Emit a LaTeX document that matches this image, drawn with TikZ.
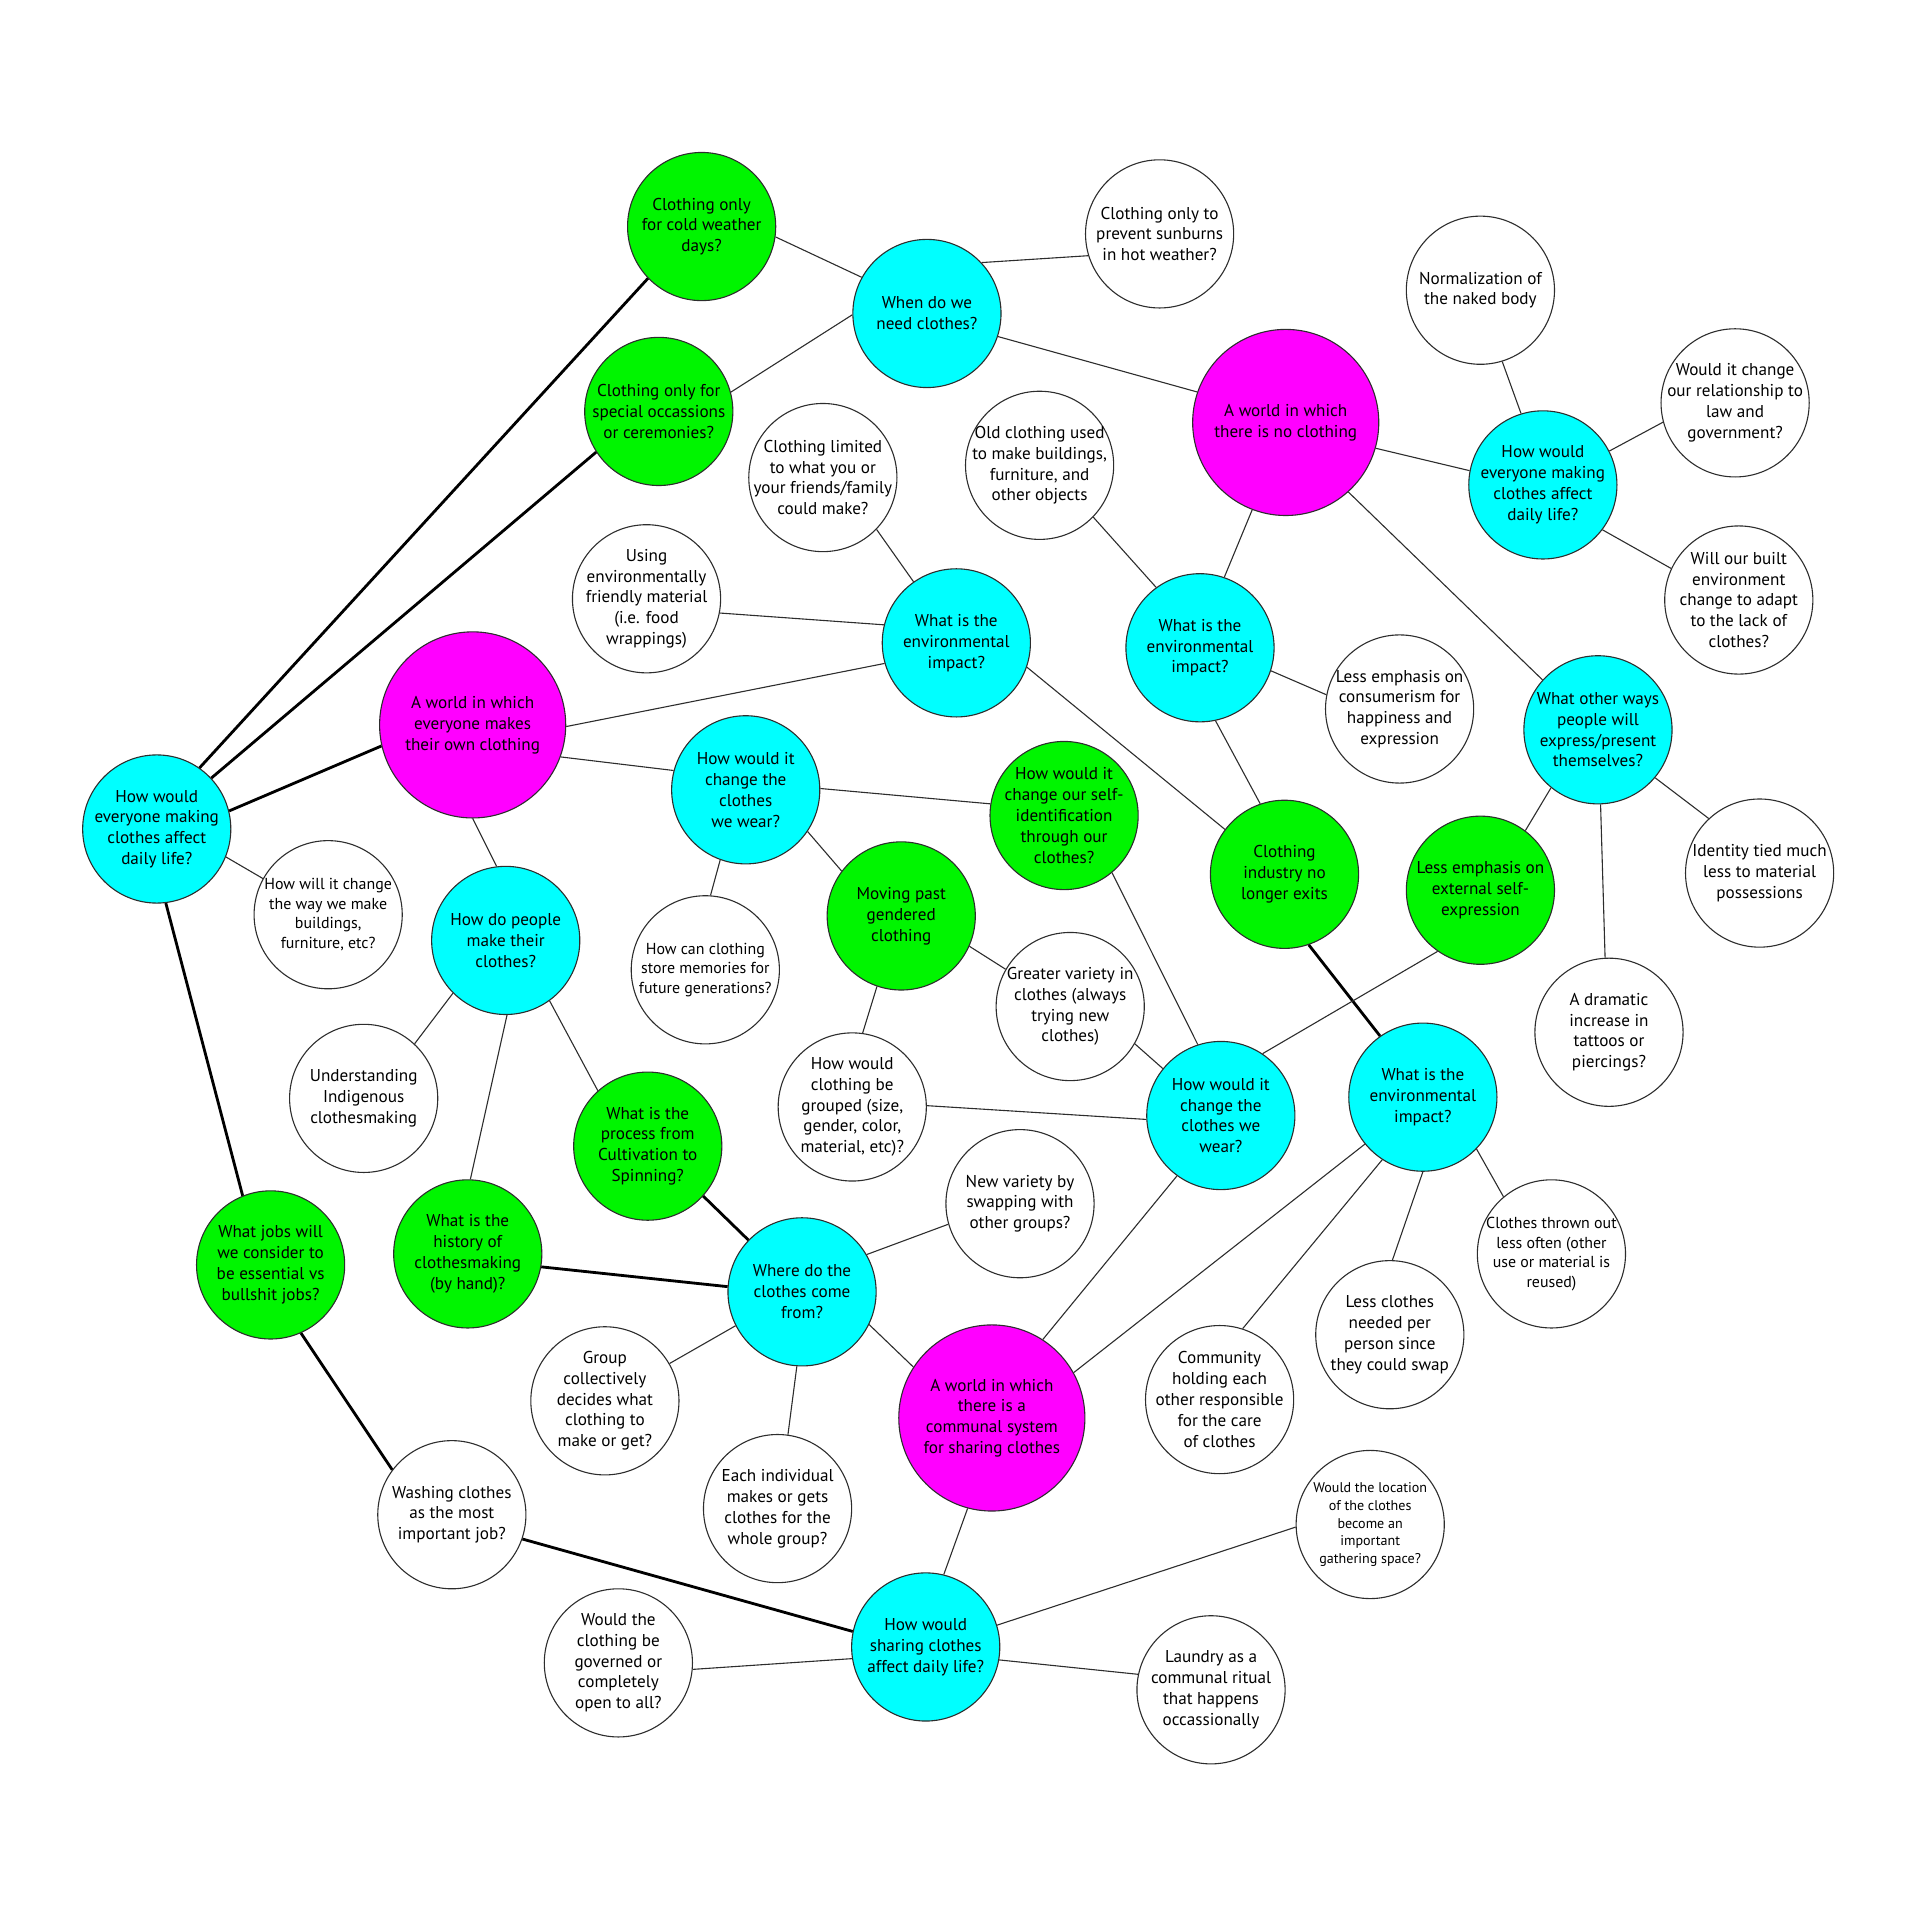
\documentclass[tikz,border=0pt]{standalone}
\usepackage{fontspec}
\setmainfont{PT Sans}
\usepackage{xcolor}
\definecolor{bubcyan}{RGB}{0,255,255}
\definecolor{bubgreen}{RGB}{0,245,0}
\definecolor{bubpink}{RGB}{255,0,255}
\definecolor{edgegray}{RGB}{45,45,45}

\begin{document}
\begin{tikzpicture}[x=1pt,y=-1pt,
  bub/.style={circle,draw=edgegray,line width=0.9pt,minimum size=121pt,inner sep=0pt},
  cy/.style={bub,fill=bubcyan},
  gr/.style={bub,fill=bubgreen},
  wh/.style={bub,fill=white},
  mg/.style={bub,minimum size=152pt,fill=bubpink},
  txt/.style={align=center,inner sep=0pt,font=\fontsize{14}{17}\selectfont},
  txts/.style={txt,font=\fontsize{13}{16}\selectfont},
  txtxs/.style={txt,font=\fontsize{11.5}{14.5}\selectfont},
  link/.style={draw=edgegray,line width=0.9pt},
  trunk/.style={draw=black,line width=2.3pt}]
\useasboundingbox (0,0) rectangle (1568,1567);

\node[gr,label={[txt]center:{Clothing only\\for cold weather\\days?}}] (coldwx) at (573,185) {};
\node[wh,label={[txt]center:{Clothing only to\\prevent sunburns\\in hot weather?}}] (sunburn) at (947,191) {};
\node[cy,label={[txt]center:{When do we\\need clothes?}}] (whenneed) at (757,256) {};
\node[wh,label={[txt]center:{Normalization of\\the naked body}}] (naked) at (1209,237) {};
\node[gr,label={[txt]center:{Clothing only for\\special occassions\\or ceremonies?}}] (special) at (538,336) {};
\node[mg,label={[txt]center:{A world in which\\there is no clothing}}] (noclo) at (1050,345) {};
\node[wh,label={[txt]center:{Would it change\\our relationship to\\law and\\government?}}] (law) at (1417,329) {};
\node[cy,label={[txt]center:{How would\\everyone making\\clothes affect\\daily life?}}] (dailyR) at (1260,396) {};
\node[wh,label={[txt]center:{Clothing limited\\to what you or\\your friends/family\\could make?}}] (limited) at (672,390) {};
\node[wh,label={[txt]center:{Old clothing used\\to make buildings,\\furniture, and\\other objects}}] (oldclo) at (849,380) {};
\node[wh,label={[txt]center:{Using\\environmentally\\friendly material\\(i.e. food\\wrappings)}}] (ecomat) at (528,489) {};
\node[cy,label={[txt]center:{What is the\\environmental\\impact?}}] (envA) at (781,525) {};
\node[cy,label={[txt]center:{What is the\\environmental\\impact?}}] (envB) at (980,529) {};
\node[wh,label={[txt]center:{Will our built\\environment\\change to adapt\\to the lack of\\clothes?}}] (builtenv) at (1420,490) {};
\node[wh,label={[txt]center:{Less emphasis on\\consumerism for\\happiness and\\expression}}] (consum) at (1143,579) {};
\node[mg,label={[txt]center:{A world in which\\everyone makes\\their own clothing}}] (ownclo) at (386,592) {};
\node[cy,label={[txt]center:{How would it\\change the\\clothes\\we wear?}}] (wearA) at (609,645) {};
\node[gr,label={[txt]center:{How would it\\change our self-\\identification\\through our\\clothes?}}] (selfid) at (869,666) {};
\node[cy,label={[txt]center:{What other ways\\people will\\express/present\\themselves?}}] (otherways) at (1305,596) {};
\node[cy,label={[txt]center:{How would\\everyone making\\clothes affect\\daily life?}}] (dailyL) at (128,677) {};
\node[wh,label={[txts]center:{How will it change\\the way we make\\buildings,\\furniture, etc?}}] (buildings) at (268,747) {};
\node[gr,label={[txt]center:{Clothing\\industry no\\longer exits}}] (industry) at (1049,714) {};
\node[gr,label={[txt]center:{Less emphasis on\\external self-\\expression}}] (external) at (1209,727) {};
\node[wh,label={[txt]center:{Identity tied much\\less to material\\possessions}}] (identity) at (1437,713) {};
\node[cy,label={[txt]center:{How do people\\make their\\clothes?}}] (howmake) at (413,768) {};
\node[wh,label={[txts]center:{How can clothing\\store memories for\\future generations?}}] (memories) at (576,792) {};
\node[gr,label={[txt]center:{Moving past\\gendered\\clothing}}] (gendered) at (736,748) {};
\node[wh,label={[txt]center:{Greater variety in\\clothes (always\\trying new\\clothes)}}] (variety) at (874,822) {};
\node[wh,label={[txt]center:{A dramatic\\increase in\\tattoos or\\piercings?}}] (tattoos) at (1314,843) {};
\node[wh,label={[txt]center:{Understanding\\Indigenous\\clothesmaking}}] (indigenous) at (297,897) {};
\node[gr,label={[txt]center:{What is the\\process from\\Cultivation to\\Spinning?}}] (process) at (529,936) {};
\node[wh,label={[txt]center:{How would\\clothing be\\grouped (size,\\gender, color,\\material, etc)?}}] (grouped) at (696,904) {};
\node[cy,label={[txt]center:{How would it\\change the\\clothes we\\wear?}}] (wearB) at (997,911) {};
\node[cy,label={[txt]center:{What is the\\environmental\\impact?}}] (envC) at (1162,896) {};
\node[wh,label={[txt]center:{New variety by\\swapping with\\other groups?}}] (swapping) at (833,983) {};
\node[gr,label={[txt]center:{What is the\\history of\\clothesmaking\\(by hand)?}}] (history) at (382,1024) {};
\node[gr,label={[txt]center:{What jobs will\\we consider to\\be essential vs\\bullshit jobs?}}] (jobs) at (221,1033) {};
\node[cy,label={[txt]center:{Where do the\\clothes come\\from?}}] (wherefrom) at (655,1055) {};
\node[wh,label={[txts]center:{Clothes thrown out\\less often (other\\use or material is\\reused)}}] (thrownout) at (1267,1024) {};
\node[wh,label={[txt]center:{Less clothes\\needed per\\person since\\they could swap}}] (lessclo) at (1135,1090) {};
\node[wh,label={[txt]center:{Group\\collectively\\decides what\\clothing to\\make or get?}}] (groupdec) at (494,1144) {};
\node[wh,label={[txt]center:{Community\\holding each\\other responsible\\for the care\\of clothes}}] (community) at (996,1143) {};
\node[mg,label={[txt]center:{A world in which\\there is a\\communal system\\for sharing clothes}}] (communal) at (810,1158) {};
\node[wh,label={[txt]center:{Washing clothes\\as the most\\important job?}}] (washing) at (369,1237) {};
\node[wh,label={[txt]center:{Each individual\\makes or gets\\clothes for the\\whole group?}}] (individual) at (635,1232) {};
\node[wh,label={[txtxs]center:{Would the location\\of the clothes\\become an\\important\\gathering space?}}] (location) at (1119,1245) {};
\node[cy,label={[txt]center:{How would\\sharing clothes\\affect daily life?}}] (sharing) at (756,1345) {};
\node[wh,label={[txt]center:{Would the\\clothing be\\governed or\\completely\\open to all?}}] (governed) at (505,1358) {};
\node[wh,label={[txt]center:{Laundry as a\\communal ritual\\that happens\\occassionally}}] (laundry) at (989,1380) {};

\draw[trunk] (dailyL.55) -- (coldwx.224);
\draw[trunk] (dailyL.43) -- (special.213);
\draw[trunk] (dailyL.14) -- (ownclo.193);
\draw[trunk] (dailyL.277) -- (jobs.112);
\draw[trunk] (jobs.294) -- (washing.143);
\draw[trunk] (washing.341) -- (sharing.168);
\draw[trunk] (process.318) -- (wherefrom.136);
\draw[trunk] (history.350) -- (wherefrom.176);
\draw[trunk] (industry.289) -- (envC.125);

\draw[link] (coldwx.352) -- (whenneed.151);
\draw[link] (special.15) -- (whenneed.181);
\draw[link] (whenneed.43) -- (sunburn.197);
\draw[link] (whenneed.342) -- (noclo.161);
\draw[link] (naked.287) -- (dailyR.107);
\draw[link] (dailyR.27) -- (law.195);
\draw[link] (dailyR.323) -- (builtenv.155);
\draw[link] (noclo.344) -- (dailyR.169);
\draw[link] (noclo.312) -- (otherways.138);
\draw[link] (noclo.249) -- (envB.71);
\draw[link] (limited.316) -- (envA.125);
\draw[link] (ecomat.349) -- (envA.166);
\draw[link] (oldclo.316) -- (envB.126);
\draw[link] (ownclo.359) -- (envA.196);
\draw[link] (envA.341) -- (industry.143);
\draw[link] (envB.342) -- (consum.169);
\draw[link] (envB.282) -- (industry.109);
\draw[link] (ownclo.340) -- (wearA.165);
\draw[link] (ownclo.270) -- (howmake.97);
\draw[link] (wearA.1) -- (selfid.171);
\draw[link] (wearA.250) -- (memories.86);
\draw[link] (wearA.326) -- (gendered.143);
\draw[link] (selfid.310) -- (wearB.108);
\draw[link] (otherways.231) -- (external.53);
\draw[link] (otherways.272) -- (tattoos.93);
\draw[link] (otherways.320) -- (identity.133);
\draw[link] (dailyL.338) -- (buildings.151);
\draw[link] (howmake.225) -- (indigenous.47);
\draw[link] (howmake.271) -- (history.88);
\draw[link] (howmake.306) -- (process.132);
\draw[link] (gendered.251) -- (grouped.82);
\draw[link] (gendered.336) -- (variety.150);
\draw[link] (variety.330) -- (wearB.141);
\draw[link] (grouped.1) -- (wearB.183);
\draw[link] (external.235) -- (wearB.56);
\draw[link] (wearB.234) -- (communal.57);
\draw[link] (wherefrom.30) -- (swapping.196);
\draw[link] (wherefrom.207) -- (groupdec.30);
\draw[link] (wherefrom.266) -- (individual.82);
\draw[link] (wherefrom.334) -- (communal.147);
\draw[link] (envC.219) -- (communal.29);
\draw[link] (envC.237) -- (community.72);
\draw[link] (envC.270) -- (lessclo.88);
\draw[link] (envC.316) -- (thrownout.130);
\draw[link] (communal.255) -- (sharing.76);
\draw[link] (sharing.17) -- (location.182);
\draw[link] (sharing.189) -- (governed.355);
\draw[link] (sharing.350) -- (laundry.168);
\end{tikzpicture}
\end{document}
